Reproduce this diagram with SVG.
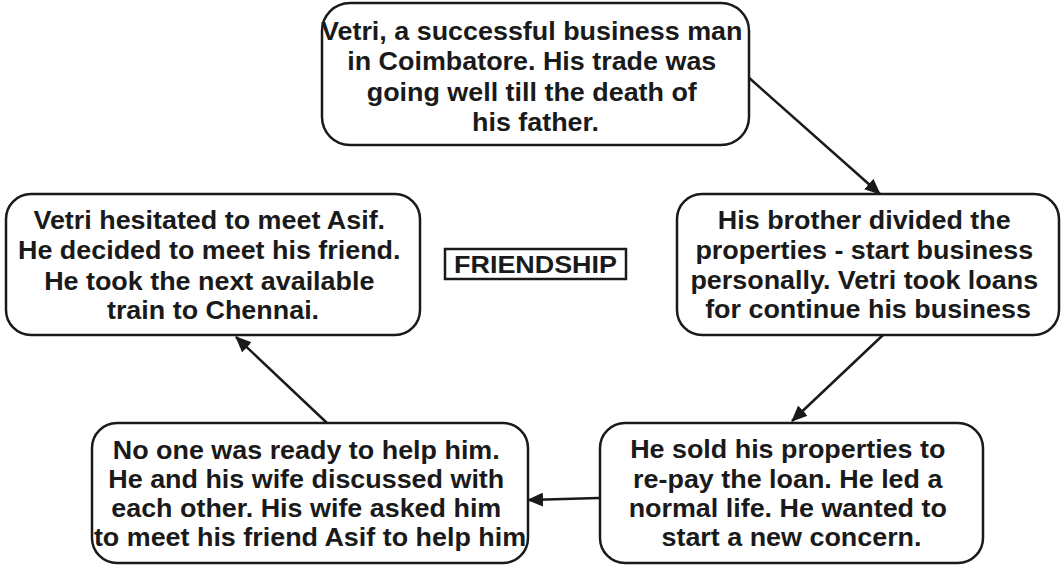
<svg xmlns="http://www.w3.org/2000/svg" width="1061" height="565" viewBox="0 0 1061 565">
  <style>
    .box { fill: #ffffff; stroke: #1a1a1a; stroke-width: 2.5; }
    .lbl { font-family: "Liberation Sans", Arial, Helvetica, sans-serif; font-weight: bold; font-size: 26px; fill: #1a1a1a; text-anchor: middle; }
    .title { font-family: "Liberation Sans", Arial, Helvetica, sans-serif; font-weight: bold; font-size: 23px; fill: #1a1a1a; text-anchor: middle; }
    .edge { fill: none; stroke: #1a1a1a; stroke-width: 2.5; marker-end: url(#head); }
  </style>
  <defs>
    <marker id="head" markerUnits="userSpaceOnUse" markerWidth="16" markerHeight="14" refX="15" refY="7" orient="auto">
      <path d="M0,0 L16,7 L0,14 z" fill="#1a1a1a"/>
    </marker>
  </defs>
  <rect width="1061" height="565" fill="#ffffff"/>

  <!-- connectors -->
  <g id="connectors">
    <line class="edge" x1="747" y1="76" x2="880" y2="194"/>
    <line class="edge" x1="883" y1="335" x2="792" y2="421"/>
    <line class="edge" x1="599" y1="498" x2="528" y2="500"/>
    <line class="edge" x1="327" y1="423" x2="236" y2="337"/>
  </g>

  <!-- centre title -->
  <g id="title">
    <rect x="445" y="249" width="181" height="30" fill="#ffffff" stroke="#1a1a1a" stroke-width="2.5"/>
    <text class="title" transform="translate(535.5,273) scale(1.17,1)" x="0" y="0">FRIENDSHIP</text>
  </g>

  <g id="node-start">
    <rect class="box" x="322" y="3" width="427" height="142" rx="28"/>
    <text class="lbl" transform="translate(535.5,0) scale(1.035,1)">
      <tspan x="0" y="40">Vetri, a successful business man</tspan>
      <tspan x="0" y="70">in Coimbatore. His trade was</tspan>
      <tspan x="0" y="101">going well till the death of</tspan>
      <tspan x="0" y="131">his father.</tspan>
    </text>
  </g>

  <g id="node-brother">
    <rect class="box" x="677" y="194" width="382" height="141" rx="25"/>
    <text class="lbl" transform="translate(868,0) scale(1.035,1)">
      <tspan x="0" y="229">His brother divided the</tspan>
      <tspan x="0" y="259">properties - start business</tspan>
      <tspan x="0" y="289">personally. Vetri took loans</tspan>
      <tspan x="0" y="318">for continue his business</tspan>
    </text>
  </g>

  <g id="node-sold">
    <rect class="box" x="600" y="423" width="383" height="140" rx="25"/>
    <text class="lbl" transform="translate(791.5,0) scale(1.035,1)">
      <tspan x="0" y="458">He sold his properties to</tspan>
      <tspan x="0" y="488">re-pay the loan. He led a</tspan>
      <tspan x="0" y="517">normal life. He wanted to</tspan>
      <tspan x="0" y="546">start a new concern.</tspan>
    </text>
  </g>

  <g id="node-wife">
    <rect class="box" x="92" y="423" width="436" height="140" rx="25"/>
    <text class="lbl" transform="translate(310,0) scale(1.035,1)">
      <tspan x="0" y="459">No one was ready to help him.</tspan>
      <tspan x="0" y="488">He and his wife discussed with</tspan>
      <tspan x="0" y="517">each other. His wife asked him</tspan>
      <tspan x="0" y="546">to meet his friend Asif to help him</tspan>
    </text>
  </g>

  <g id="node-chennai">
    <rect class="box" x="6" y="194" width="414" height="141" rx="25"/>
    <text class="lbl" transform="translate(213,0) scale(1.035,1)">
      <tspan x="0" y="229">Vetri hesitated to meet Asif.</tspan>
      <tspan x="0" y="259">He decided to meet his friend.</tspan>
      <tspan x="0" y="290">He took the next available</tspan>
      <tspan x="0" y="319">train to Chennai.</tspan>
    </text>
  </g>
</svg>
